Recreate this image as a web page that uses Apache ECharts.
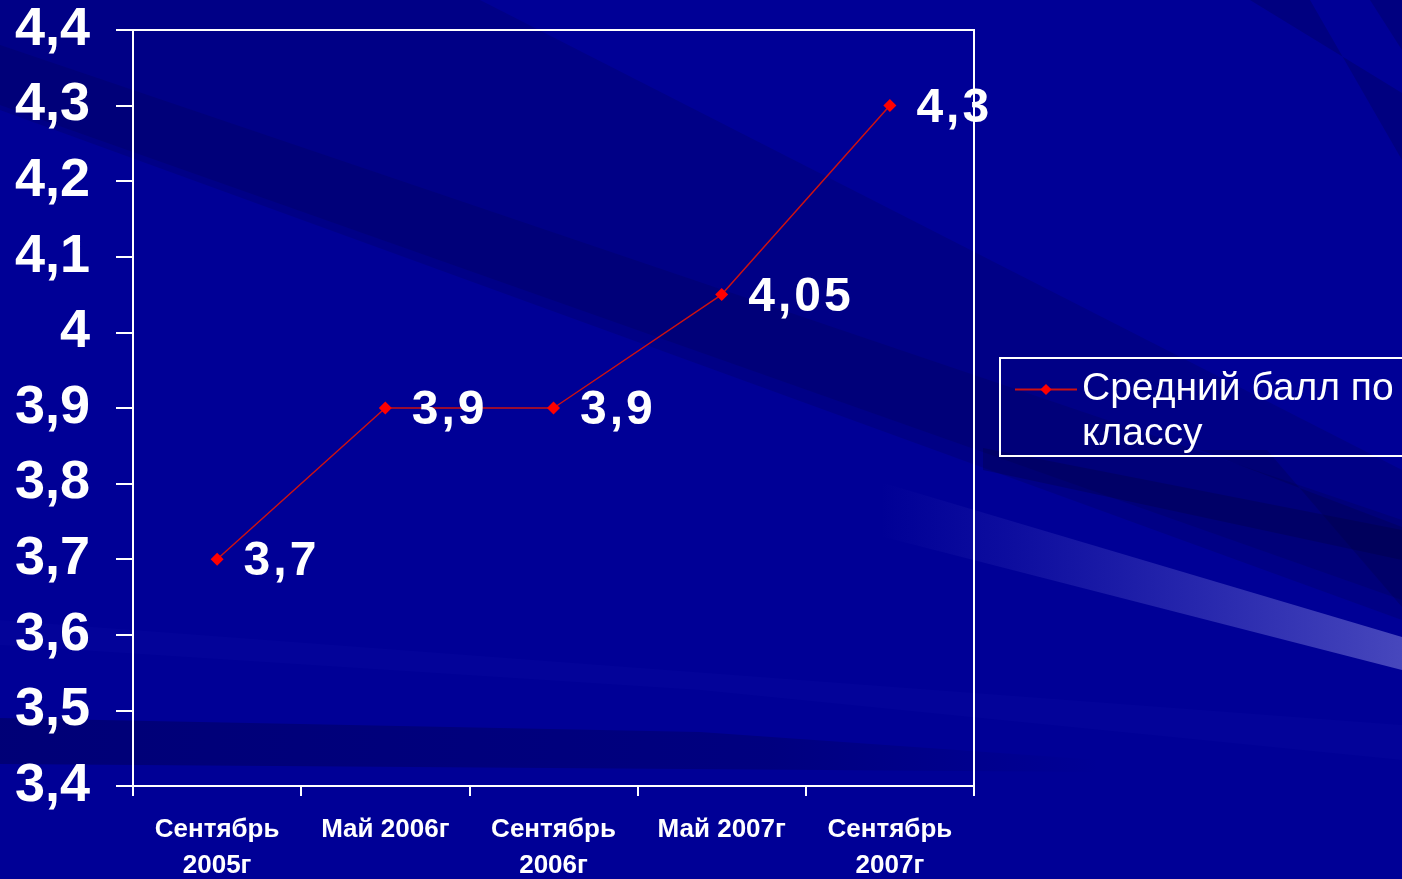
<!DOCTYPE html>
<html>
<head>
<meta charset="utf-8">
<script src="https://cdn.jsdelivr.net/npm/echarts@6/dist/echarts.min.js"></script>
<style>
html,body{margin:0;padding:0;background:#000096;}
#c{width:1402px;height:879px;}
</style>
</head>
<body>
<div id="c"></div>
<script>
// ---- data ----
var categories = ['Сентябрь\n2005г', 'Май 2006г', 'Сентябрь\n2006г', 'Май 2007г', 'Сентябрь\n2007г'];
var seriesName = 'Средний балл по классу';
var legendLines = ['', 'Средний балл по', 'классу'];
var values = [3.7, 3.9, 3.9, 4.05, 4.3];
var yMin = 3.4, yMax = 4.4, yStep = 0.1;

function fmt(v) { return String(+(+v).toFixed(2)).replace('.', ','); }
function spaced(s) { return s.split('').map(function (ch) { return '{c|' + ch + '}'; }).join(''); }

var chart = echarts.init(document.getElementById('c'), null, {renderer: 'canvas'});

// decorative background streaks (pure decoration, not data)
var bg = [
  {type: 'rect', shape: {x: 0, y: 0, width: 1402, height: 879}, style: {fill: '#000096'}},
  {type: 'polygon', shape: {points: [[0,0],[480,0],[1402,470],[1402,620],[0,110]]}, style: {fill: 'rgba(0,0,60,0.18)'}},
  {type: 'polygon', shape: {points: [[0,45],[0,105],[1402,600],[1402,520]]}, style: {fill: 'rgba(0,0,50,0.15)'}},
  {type: 'polygon', shape: {points: [[1250,0],[1310,0],[1402,160],[1402,93]]}, style: {fill: 'rgba(0,0,50,0.22)'}},
  {type: 'polygon', shape: {points: [[1370,0],[1402,0],[1402,50]]}, style: {fill: 'rgba(0,0,50,0.22)'}},
  {type: 'polygon', shape: {points: [[983,448],[1402,530],[1402,560],[983,470]]}, style: {fill: 'rgba(0,0,50,0.25)'}},
  {type: 'polygon', shape: {points: [[1200,450],[1267,450],[1402,607],[1402,527]]}, style: {fill: 'rgba(0,0,50,0.20)'}},
  {type: 'polygon', shape: {points: [[0,718],[700,732],[1100,760],[1100,772],[0,764]]},
    style: {fill: new echarts.graphic.LinearGradient(0,0,1,0,[{offset:0,color:'rgba(0,0,60,0.35)'},{offset:0.7,color:'rgba(0,0,60,0.25)'},{offset:1,color:'rgba(0,0,60,0)'}])}},
  {type: 'polygon', shape: {points: [[0,645],[700,690],[1402,760],[1402,725],[0,620]]},
    style: {fill: 'rgba(40,40,200,0.07)'}},
  {type: 'polygon', shape: {points: [[880,482],[1402,637],[1402,670],[880,536]]},
    style: {fill: new echarts.graphic.LinearGradient(0,0,1,0,[{offset:0,color:'rgba(110,110,220,0)'},{offset:0.25,color:'rgba(110,110,220,0.12)'},{offset:1,color:'rgba(130,130,220,0.55)'}])}},
  // legend frame
  {type: 'rect', shape: {x: 1000, y: 358, width: 420, height: 98}, style: {fill: 'none', stroke: '#ffffff', lineWidth: 2}}
];
bg.forEach(function (g, i) { g.z = -100 + i; g.silent = true; });

chart.setOption({
  animation: false,
  backgroundColor: '#000096',
  textStyle: {fontFamily: 'Liberation Sans, Arial, sans-serif'},
  graphic: {elements: bg},
  grid: {left: 133, right: 428, top: 30, bottom: 93, show: true, borderColor: '#ffffff', borderWidth: 2,
         containLabel: false, outerBoundsMode: 'none'},
  legend: {
    show: true,
    left: 1014,
    top: 322,
    padding: 0,
    itemWidth: 62,
    itemHeight: 14,
    data: [seriesName],
    formatter: function () { return legendLines.join('\n'); },
    textStyle: {color: '#ffffff', fontSize: 39, lineHeight: 45, fontFamily: 'Liberation Sans, Arial, sans-serif'}
  },
  xAxis: {
    type: 'category',
    data: categories,
    boundaryGap: true,
    axisLine: {lineStyle: {color: '#ffffff', width: 2}},
    axisTick: {show: true, inside: false, length: 10, alignWithLabel: false, lineStyle: {color: '#ffffff', width: 2}},
    axisLabel: {color: '#ffffff', fontSize: 26, fontWeight: 'bold', lineHeight: 36, margin: 26, interval: 0, fontFamily: 'Liberation Sans, Arial, sans-serif'},
    splitLine: {show: false}
  },
  yAxis: {
    type: 'value',
    min: yMin, max: yMax, interval: yStep,
    axisLine: {show: true, lineStyle: {color: '#ffffff', width: 2}},
    axisTick: {show: true, inside: false, length: 17, lineStyle: {color: '#ffffff', width: 2}},
    axisLabel: {color: '#ffffff', fontSize: 54, fontWeight: 'bold', margin: 43, formatter: fmt, fontFamily: 'Liberation Sans, Arial, sans-serif'},
    splitLine: {show: false}
  },
  series: [{
    name: seriesName,
    type: 'line',
    data: values,
    symbol: 'diamond',
    symbolSize: 13,
    lineStyle: {color: '#cc1111', width: 1.5},
    itemStyle: {color: '#ff0000'},
    label: {
      show: true, position: 'right', distance: 20, offset: [0, 3],
      color: '#ffffff', fontSize: 48, fontWeight: 'bold',
      formatter: function (p) { return spaced(fmt(p.value)); },
      rich: {
        c: {color: '#ffffff', fontSize: 48, fontWeight: 'bold', padding: [0, 3, 0, 0],
            fontFamily: 'Liberation Sans, Arial, sans-serif'}
      }
    },
    z: 5
  }]
});
</script>
</body>
</html>
